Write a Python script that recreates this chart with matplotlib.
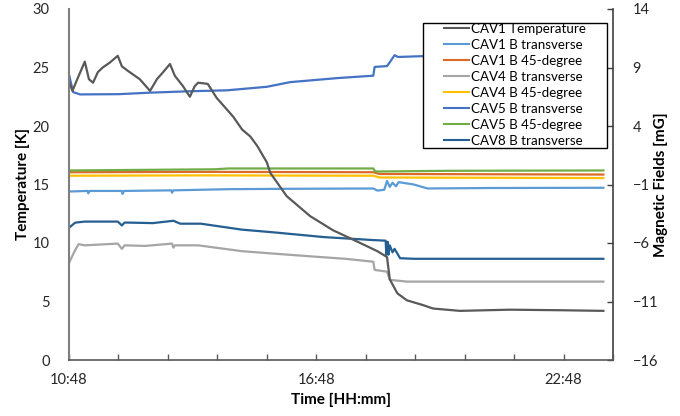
import matplotlib
matplotlib.use('Agg')
import matplotlib.pyplot as plt
from matplotlib.patches import Rectangle
import numpy as np

plt.rcParams['font.family'] = ['Lato', 'DejaVu Sans']

# data: (time of day, value)
cav1_temp_t = ['10:48', '10:53', '11:00', '11:11', '11:17', '11:23', '11:30', '11:37', '11:47', '11:59',
               '12:05', '12:14', '12:31', '12:46', '12:56', '13:05', '13:15', '13:22', '13:34', '13:44',
               '13:51', '13:56', '14:10', '14:23', '14:38', '14:47', '15:00', '15:12', '15:22', '15:36',
               '15:41', '16:05', '16:39', '17:12', '17:52', '18:17', '18:31', '18:35', '18:46', '19:00',
               '19:23', '19:38', '20:17', '21:30', '22:48', '23:46']
cav1_temp = [23.8, 23.0, 24.0, 25.5, 24.0, 23.7, 24.6, 25.0, 25.4, 26.0,
             25.1, 24.7, 24.0, 23.0, 24.0, 24.6, 25.3, 24.3, 23.4, 22.5,
             23.4, 23.7, 23.6, 22.4, 21.4, 20.8, 19.7, 19.1, 18.3, 16.9,
             16.0, 14.0, 12.3, 11.1, 10.0, 9.3, 8.8, 6.9, 5.7, 5.1,
             4.7, 4.4, 4.2, 4.3, 4.25, 4.2]

cav1_bt_t = ['10:48', '11:15', '11:16', '11:18', '12:05', '12:06', '12:08', '13:17', '13:18', '13:20',
             '14:40', '16:00', '18:11', '18:17', '18:27', '18:31', '18:35', '18:39', '18:44', '18:48',
             '19:10', '19:30', '21:00', '23:46']
cav1_bt = [-1.6, -1.55, -1.75, -1.55, -1.55, -1.8, -1.55, -1.5, -1.7, -1.5,
           -1.4, -1.37, -1.34, -1.52, -1.45, -0.7, -1.2, -0.85, -1.15, -0.8,
           -1.0, -1.34, -1.3, -1.28]

cav1_b45_t = ['10:48', '14:00', '18:11', '18:20', '23:46']
cav1_b45 = [0.05, 0.08, 0.05, -0.1, -0.15]

cav4_bt_t = ['10:48', '10:57', '11:02', '11:11', '11:59', '12:05', '12:09', '12:39', '13:18', '13:20',
             '13:22', '13:56', '15:00', '15:22', '16:30', '17:30', '18:11', '18:13', '18:31', '18:35',
             '19:00', '23:46']
cav4_bt = [-7.7, -6.6, -6.1, -6.2, -6.05, -6.5, -6.2, -6.25, -6.05, -6.4,
           -6.2, -6.2, -6.7, -6.8, -7.1, -7.35, -7.6, -8.3, -8.45, -9.15,
           -9.3, -9.3]

cav4_b45_t = ['10:48', '14:00', '18:11', '18:20', '23:46']
cav4_b45 = [-0.25, -0.22, -0.25, -0.4, -0.45]

cav5_bt_t = ['10:48', '10:54', '11:04', '12:00', '12:46', '13:44', '14:38', '15:36', '16:10', '17:20',
             '18:11', '18:13', '18:31', '18:35', '18:42', '18:47', '19:23', '23:46']
cav5_bt = [8.4, 6.9, 6.7, 6.72, 6.85, 6.97, 7.05, 7.35, 7.75, 8.1,
           8.3, 9.05, 9.12, 9.45, 10.05, 9.9, 9.97, 9.97]

cav5_b45_t = ['10:48', '14:20', '14:40', '18:11', '18:14', '20:00', '23:46']
cav5_b45 = [0.2, 0.3, 0.37, 0.37, 0.11, 0.17, 0.2]

cav8_bt_t = ['10:48', '10:57', '11:11', '11:59', '12:05', '12:09', '12:50', '13:20', '13:30', '14:00',
             '15:00', '15:48', '17:00', '18:11', '18:29', '18:30', '18:32', '18:33', '18:35', '18:39',
             '18:42', '18:50', '19:10', '23:46']
cav8_bt = [-4.7, -4.26, -4.17, -4.17, -4.5, -4.25, -4.3, -4.1, -4.35, -4.35,
           -4.86, -5.1, -5.5, -5.75, -5.8, -7.0, -5.9, -7.0, -6.2, -6.8,
           -6.5, -7.3, -7.35, -7.35]

xtick_labels = ['10:48', '16:48', '22:48']


def hours(ts):
    return np.array([int(s[:2]) + int(s[3:]) / 60.0 for s in ts])


fig = plt.figure(figsize=(6.8, 4.16), dpi=100)
ax = fig.add_axes([69 / 680, 1 - 360 / 416, 544 / 680, 351 / 416])
ax2 = ax.twinx()

mag = [
    (cav1_bt_t, cav1_bt, 'CAV1 B transverse', '#5B9BD5'),
    (cav1_b45_t, cav1_b45, 'CAV1 B 45-degree', '#DA6A26'),
    (cav4_bt_t, cav4_bt, 'CAV4 B transverse', '#A5A5A5'),
    (cav4_b45_t, cav4_b45, 'CAV4 B 45-degree', '#FFC000'),
    (cav5_bt_t, cav5_bt, 'CAV5 B transverse', '#4472C4'),
    (cav5_b45_t, cav5_b45, 'CAV5 B 45-degree', '#70AD47'),
    (cav8_bt_t, cav8_bt, 'CAV8 B transverse', '#255E91'),
]
handles = []
h, = ax.plot(hours(cav1_temp_t), cav1_temp, color='#595959', lw=1.6, label='CAV1 Temperature')
handles.append(h)
for t, v, name, c in mag:
    h, = ax2.plot(hours(t), v, color=c, lw=1.6, label=name)
    handles.append(h)

# temperature on top of the field lines
ax.set_zorder(ax2.get_zorder() + 1)
ax.patch.set_visible(False)

ax.set_xlim(10.8, 24.0)
ax.set_ylim(0, 30)
ax2.set_ylim(-16, 14)

xt = 10.8 + 1.2 * np.arange(12)
ax.set_xticks(xt)
lab = [''] * len(xt)
for i, s in zip([0, 5, 10], xtick_labels):
    lab[i] = s
ax.set_xticklabels(lab)
ax.set_yticks(np.arange(0, 31, 5))
ax2.set_yticks(np.arange(-16, 15, 5))

ax.tick_params(axis='x', direction='in', length=4, width=1, color='#595959', pad=9,
               labelsize=10.5, labelcolor='#262626')
ax.tick_params(axis='y', length=0, pad=14, labelsize=10.5, labelcolor='#262626')
ax2.tick_params(axis='y', direction='in', length=4, width=1, color='#404040', pad=14,
                labelsize=10.5, labelcolor='#262626')

for s in ['top', 'right']:
    ax.spines[s].set_visible(False)
for s in ['top', 'left', 'bottom']:
    ax2.spines[s].set_visible(False)
ax.spines['left'].set_color('#7f7f7f')
ax.spines['left'].set_linewidth(1.5)
ax.spines['bottom'].set_color('#595959')
ax.spines['bottom'].set_linewidth(1.2)
ax2.spines['right'].set_color('#404040')
ax2.spines['right'].set_linewidth(1.2)

ax.set_ylabel('Temperature [K]', fontsize=11, fontweight='bold')
ax2.set_ylabel('Magnetic Fields [mG]', fontsize=11, fontweight='bold')
ax.set_xlabel('Time [HH:mm]', fontsize=11, fontweight='bold')
ax.yaxis.set_label_coords(-0.072, 0.5)
ax2.yaxis.set_label_coords(1.076, 0.5)
ax.xaxis.set_label_coords(0.5, -0.095)

leg = ax.legend(handles=handles, loc='upper left', bbox_to_anchor=((444 - 69) / 544, (360 - 23) / 351),
                borderaxespad=0, frameon=False, fontsize=9.6, handlelength=1.9,
                handletextpad=0.15, labelspacing=0.3, borderpad=0)
for l in leg.get_lines():
    l.set_linewidth(1.5)
ax.add_patch(Rectangle(((423 - 69) / 544, (360 - 148) / 351), (607 - 423) / 544, (148 - 23) / 351,
                       transform=ax.transAxes, fill=True, facecolor='white', edgecolor='black',
                       lw=1, zorder=4))
leg.set_zorder(5)

fig.savefig('out.png', dpi=100)
